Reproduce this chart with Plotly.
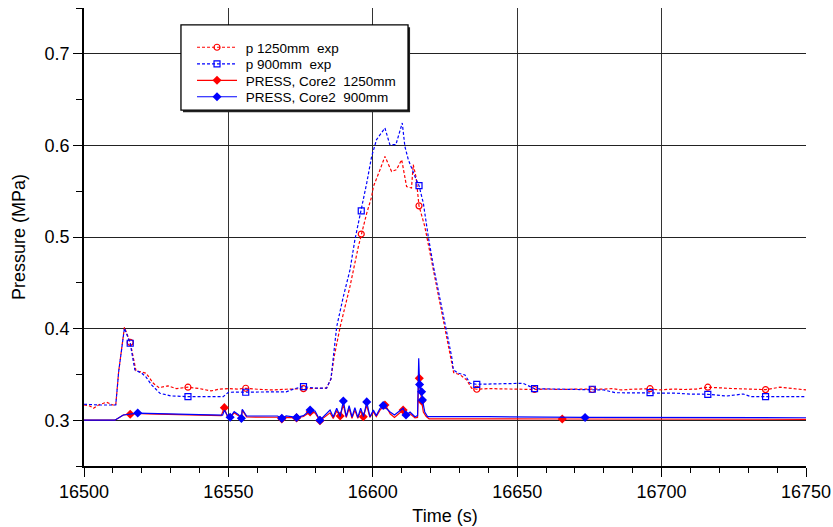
import plotly.graph_objects as go

# ---------------- data ----------------
exp1250_t = [16500, 16502, 16503.3, 16505, 16507.8, 16510, 16511, 16512, 16514, 16516, 16518, 16520,
             16521.5, 16522.5, 16524, 16526, 16529, 16532, 16536, 16540, 16542, 16544, 16547, 16550,
             16553, 16556, 16560, 16565, 16570, 16573, 16576, 16580, 16584, 16585.5, 16586.6, 16588.7,
             16592.1, 16595, 16596, 16597.9, 16599.6, 16600.2, 16602.5, 16604.2, 16606.5, 16608.2,
             16610, 16611.7, 16613.4, 16614, 16615, 16616, 16618, 16619.8, 16622.1, 16624.4, 16626.7,
             16628, 16630.3, 16632.5, 16634.2, 16636, 16640, 16645, 16650, 16656, 16660, 16665, 16670,
             16676, 16680, 16683, 16686, 16690, 16696, 16699, 16704, 16708, 16712, 16716, 16720, 16725,
             16730, 16736, 16741, 16745, 16750]
exp1250_p = [0.3166, 0.3155, 0.313, 0.3166, 0.3196, 0.3166, 0.3166, 0.353, 0.4015, 0.385, 0.354, 0.352,
             0.3513, 0.347, 0.3403, 0.3355, 0.3375, 0.3345, 0.336, 0.3345, 0.333, 0.332, 0.334, 0.3345,
             0.334, 0.3349, 0.3338, 0.333, 0.3338, 0.334, 0.3345, 0.3345, 0.335, 0.345, 0.369, 0.402,
             0.446, 0.4896, 0.5032, 0.526, 0.544, 0.555, 0.5735, 0.588, 0.5716, 0.5735,
             0.5844, 0.555, 0.5535, 0.579, 0.565, 0.534, 0.5115, 0.4824, 0.446, 0.4095, 0.3731,
             0.352, 0.3494, 0.344, 0.335, 0.3338, 0.3345, 0.334, 0.3335, 0.3335, 0.334, 0.3335, 0.334,
             0.3335, 0.334, 0.3345, 0.333, 0.3338, 0.3344, 0.333, 0.334, 0.3335, 0.334, 0.336, 0.335, 0.3345,
             0.334, 0.3334, 0.336, 0.3345, 0.333]
exp1250_mk_t = [16516, 16536, 16556, 16576, 16596, 16616, 16636, 16656, 16676, 16696, 16716, 16736]
exp1250_mk_p = [0.385, 0.336, 0.3349, 0.3345, 0.5032, 0.534, 0.3338, 0.3335, 0.3335, 0.3344, 0.336, 0.3334]

exp900_t = [16500, 16505, 16511, 16512, 16514, 16516, 16517.6, 16520, 16521.5, 16523.4, 16526.3, 16530,
            16536, 16542, 16548.2, 16550, 16556, 16565, 16570, 16573, 16576, 16580, 16584, 16585.5,
            16586.3, 16587.5, 16589.8, 16592.1, 16593.8, 16596, 16597.9, 16599.6, 16601.3, 16604.2,
            16605.9, 16608, 16610.2, 16611.1, 16612.3, 16614.6, 16616, 16617.5, 16619.2, 16621, 16623.3,
            16625.6, 16627.3, 16627.9, 16629.6, 16631.9, 16633.7, 16636, 16645, 16652, 16656, 16665,
            16676, 16680, 16684, 16690, 16696, 16705, 16710, 16716, 16722.5, 16726, 16728.3, 16731,
            16736, 16750]
exp900_p = [0.3174, 0.3166, 0.3166, 0.353, 0.4004, 0.384, 0.3549, 0.3513, 0.347, 0.3385, 0.3294, 0.3265,
            0.3257, 0.3257, 0.3257, 0.3305, 0.3305, 0.3305, 0.331, 0.3345, 0.3366, 0.335, 0.335, 0.345,
            0.3694, 0.402, 0.435, 0.464, 0.497, 0.5286, 0.559, 0.588, 0.6063, 0.619,
            0.6008, 0.6008, 0.6245, 0.599, 0.5844, 0.566, 0.556, 0.537, 0.5005, 0.4678, 0.4314,
            0.3986, 0.3694, 0.355, 0.3513, 0.3494, 0.3403, 0.3392, 0.3395, 0.3403, 0.3344, 0.334,
            0.3338, 0.333, 0.330, 0.330, 0.330, 0.3295, 0.3285, 0.3283, 0.3264, 0.3275, 0.3286, 0.3257,
            0.3257, 0.3257]
exp900_mk_t = [16516, 16536, 16556, 16576, 16596, 16616, 16636, 16656, 16676, 16696, 16716, 16736]
exp900_mk_p = [0.384, 0.3257, 0.3305, 0.3366, 0.5286, 0.556, 0.3392, 0.3344, 0.3338, 0.330, 0.3283, 0.3257]

sim1250_t = [16500, 16510.7, 16513.6, 16516, 16518.2, 16522, 16530, 16540, 16547.5, 16548.6, 16549.5,
             16550.6, 16552, 16553.5, 16554.5, 16554.8, 16556.3, 16560, 16567, 16568.5, 16570, 16573.6,
             16576, 16578.3, 16580, 16581.7, 16583, 16585.2, 16586.3, 16587.5, 16588.7, 16589.8,
             16590.8, 16591.8, 16592.8, 16593.8, 16594.8, 16595.8, 16596.7, 16597.9, 16599, 16600.2,
             16601.2, 16602.5, 16604.2, 16605, 16606, 16607.5, 16609, 16610.5, 16611.5, 16612.9,
             16614.6, 16615.5, 16615.9, 16616.1, 16616.9, 16617.5, 16618.5, 16619.5, 16665.6, 16750]
sim1250_p = [0.300, 0.300, 0.3057, 0.3065, 0.3075, 0.307, 0.306, 0.3055, 0.305, 0.3137, 0.305,
             0.303, 0.308, 0.305, 0.302, 0.311, 0.3035, 0.3035, 0.3032, 0.3015, 0.303, 0.3025,
             0.304, 0.309, 0.308, 0.2995, 0.3025, 0.308, 0.302, 0.310, 0.3046, 0.317,
             0.303, 0.313, 0.302, 0.311, 0.302, 0.310, 0.3038, 0.316, 0.303, 0.309,
             0.304, 0.311, 0.3166, 0.313, 0.307, 0.303, 0.307, 0.311, 0.305, 0.307,
             0.3025, 0.303, 0.3495, 0.3458, 0.321, 0.309, 0.304, 0.3015, 0.3013, 0.301]
sim1250_mk_t = [16516, 16548.6, 16568.5, 16573.6, 16578.3, 16581.7, 16588.7, 16596.7, 16604.2,
                16610.5, 16616.1, 16616.9, 16665.6]
sim1250_mk_p = [0.3065, 0.3137, 0.3015, 0.3025, 0.309, 0.2995, 0.3046, 0.3038, 0.3166,
                0.311, 0.3458, 0.321, 0.3013]

sim900_t = [16500, 16510.7, 16513.6, 16516, 16518.6, 16522, 16530, 16540, 16548, 16548.6, 16549.5,
            16550.6, 16552, 16553.5, 16554.5, 16554.8, 16556.3, 16567, 16568.5, 16570, 16573.6, 16576,
            16578.3, 16580, 16581.7, 16583, 16585.2, 16586.3, 16587.5, 16588.7, 16589.8, 16590.8,
            16591.8, 16592.8, 16593.8, 16594.8, 16595.8, 16596.8, 16597.9, 16599, 16600.2, 16601.2,
            16602.5, 16603.6, 16604.6, 16606, 16607.5, 16609, 16610.5, 16611.5, 16612.9, 16614.6,
            16615.5, 16615.9, 16616.2, 16616.9, 16617.2, 16618, 16619, 16640, 16673.5, 16750]
sim900_p = [0.300, 0.300, 0.3057, 0.307, 0.3078, 0.3075, 0.3065, 0.306, 0.3055, 0.311, 0.306,
            0.3032, 0.3093, 0.306, 0.302, 0.312, 0.3046, 0.3046, 0.302, 0.3046, 0.303, 0.305,
            0.311, 0.310, 0.300, 0.304, 0.311, 0.3035, 0.313, 0.304, 0.321, 0.304,
            0.316, 0.3035, 0.3137, 0.303, 0.313, 0.304, 0.320, 0.3038, 0.311, 0.305,
            0.313, 0.316, 0.313, 0.309, 0.3057, 0.309, 0.313, 0.3057, 0.309, 0.3038,
            0.305, 0.3677, 0.339, 0.331, 0.322, 0.309, 0.3038, 0.3038, 0.303, 0.3027]
sim900_mk_t = [16518.6, 16550.6, 16554.5, 16568.5, 16573.6, 16578.3, 16581.7, 16589.8, 16597.9,
               16603.6, 16611.5, 16616.2, 16616.9, 16617.2, 16673.5]
sim900_mk_p = [0.3078, 0.3032, 0.302, 0.302, 0.303, 0.311, 0.300, 0.321, 0.320,
               0.316, 0.3057, 0.339, 0.331, 0.322, 0.303]

names = ["p 1250mm\u00a0 exp", "p 900mm\u00a0 exp", "PRESS, Core2\u00a0 1250mm", "PRESS, Core2\u00a0 900mm"]

x_ticks = [16500, 16550, 16600, 16650, 16700, 16750]
y_ticks = [0.3, 0.4, 0.5, 0.6, 0.7]

RED = "#ff0000"
BLUE = "#0000ff"
DOT = "3px,2px"

FONT = "Liberation Sans, Arial, Helvetica, sans-serif"
LEGEND_IDS = ["legend", "legend2", "legend3", "legend4"]
LEGEND_Y = [0.9138, 0.8777, 0.8417, 0.8057]

fig = go.Figure()

def add_series(i, t, p, mt, mp, color, dash, width, symbol, msize, mline):
    fig.add_trace(go.Scatter(x=t, y=p, mode="lines", showlegend=False, hoverinfo="skip",
                             line=dict(color=color, width=width, dash=dash)))
    fig.add_trace(go.Scatter(x=mt, y=mp, mode="markers", showlegend=False, hoverinfo="skip",
                             marker=dict(symbol=symbol, size=msize, color=color,
                                         line=dict(color=color, width=mline))))
    fig.add_trace(go.Scatter(x=[None], y=[None], mode="lines+markers", name="\u00a0" + names[i],
                             legend=LEGEND_IDS[i],
                             line=dict(color=color, width=width, dash=dash),
                             marker=dict(symbol=symbol, size=msize, color=color,
                                         line=dict(color=color, width=mline))))

add_series(0, exp1250_t, exp1250_p, exp1250_mk_t, exp1250_mk_p, RED, DOT, 1.2, "circle-open", 6, 1.2)
add_series(1, exp900_t, exp900_p, exp900_mk_t, exp900_mk_p, BLUE, DOT, 1.2, "square-open", 6, 1.2)
add_series(2, sim1250_t, sim1250_p, sim1250_mk_t, sim1250_mk_p, RED, "solid", 1.2, "diamond", 7, 0)
add_series(3, sim900_t, sim900_p, sim900_mk_t, sim900_mk_p, BLUE, "solid", 1.2, "diamond", 7, 0)

# legend box (white with shadow)
fig.add_shape(type="rect", xref="paper", yref="paper", layer="above",
              x0=0.1371, x1=0.4516, y0=0.7725, y1=0.958,
              fillcolor="#222", line=dict(width=0))
fig.add_shape(type="rect", xref="paper", yref="paper", layer="above",
              x0=0.1343, x1=0.4488, y0=0.777, y1=0.963,
              fillcolor="white", line=dict(color="black", width=1.3))

legend_common = dict(xanchor="left", yanchor="middle", bgcolor="rgba(0,0,0,0)", borderwidth=0,
                     font=dict(family=FONT, size=13.5, color="black"), itemwidth=40)
legends = {}
for lid, ly in zip(LEGEND_IDS, LEGEND_Y):
    legends[lid] = dict(x=0.1496, y=ly, **legend_common)

fig.update_layout(
    width=833, height=527,
    margin=dict(l=84, r=27, t=8, b=61, autoexpand=False),
    paper_bgcolor="white", plot_bgcolor="white",
    font=dict(family=FONT, size=18, color="black"),
    showlegend=True,
    xaxis=dict(range=[16500, 16750], tickvals=x_ticks, ticktext=[str(v) for v in x_ticks],
               automargin=False,
               showgrid=True, gridcolor="#333", gridwidth=1,
               showline=True, linecolor="black", linewidth=1.5,
               ticks="outside", ticklen=9, tickwidth=1, tickcolor="black",
               minor=dict(dtick=10, tick0=16500, ticks="outside", ticklen=5, tickcolor="black", showgrid=False),
               zeroline=False,
               title=dict(text="Time (s)", font=dict(size=18), standoff=8)),
    yaxis=dict(range=[0.25, 0.75], tickvals=y_ticks, ticktext=["%.1f" % v for v in y_ticks],
               automargin=False,
               showgrid=True, gridcolor="#222", gridwidth=1,
               showline=True, linecolor="black", linewidth=1.5,
               ticks="outside", ticklen=9, tickwidth=1, tickcolor="black",
               minor=dict(dtick=0.05, tick0=0.25, ticks="outside", ticklen=6, tickcolor="black", showgrid=False),
               zeroline=False,
               title=dict(text="Pressure (MPa)", font=dict(size=18), standoff=14)),
    **legends,
)

fig.write_html("out.html")
